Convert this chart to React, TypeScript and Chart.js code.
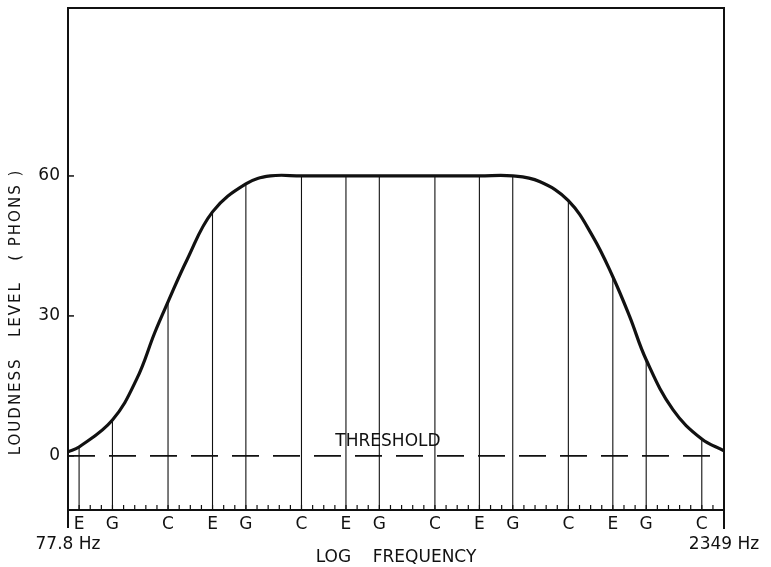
import React, { useEffect, useRef } from 'react';
import { Chart, registerables } from 'chart.js';

Chart.register(...registerables);

const F_MIN = 77.8;
const F_MAX = 2349;
const Y_MIN = -11.6;
const Y_MAX = 96;

const NOTE_NAMES = ['E', 'G', 'C', 'E', 'G', 'C', 'E', 'G', 'C', 'E', 'G', 'C', 'E', 'G', 'C'];
const NOTE_FREQS = [82.41, 98.0, 130.81, 164.81, 196.0, 261.63, 329.63, 392.0, 523.25, 659.26, 783.99, 1046.5, 1318.5, 1568.0, 2093.0];
const NOTE_LEVELS = [1.9, 7.7, 33, 52.3, 58.3, 60, 60, 60, 60, 60, 60, 54.7, 38.4, 20.6, 3.6];

const CURVE_FREQS = [77.8, 82.4, 98.0, 111.2, 122.2, 130.8, 144.3, 164.8, 196.0, 222.6, 261.6, 392.0, 659.3, 784.0, 900.9, 1046.5, 1188.7, 1318.5, 1438.5, 1568.0, 1801.6, 2093.0, 2349.0];
const CURVE_LEVELS = [0.9, 1.9, 7.7, 16.5, 26.5, 33, 42, 52.3, 58.3, 60, 60, 60, 60, 60, 58.8, 54.7, 47, 38.4, 29.9, 20.6, 9.9, 3.6, 1.1];

const Y_TICKS = [0, 30, 60];
const THRESHOLD_LEVEL = 0;
const THRESHOLD_LABEL = 'THRESHOLD';
const THRESHOLD_LABEL_POS = { x: 410, y: 3.0 };
const SEMITONE_COUNT = 59;
const END_LABELS = ['77.8 Hz', '2349 Hz'];
const X_TITLE = 'LOG    FREQUENCY';
const Y_TITLE = 'LOUDNESS   LEVEL   ( PHONS )';

const FONT = "'DejaVu Sans', sans-serif";
const INK = '#111';

const decorPlugin = {
  id: 'decor',
  afterDraw(chart: any) {
    const { ctx, chartArea, scales } = chart;
    const xs = scales.x;
    const ys = scales.y;
    const { left, right, top, bottom } = chartArea;
    ctx.save();
    ctx.strokeStyle = INK;
    ctx.lineCap = 'butt';
    // frame top and right
    ctx.lineWidth = 2;
    ctx.beginPath();
    ctx.moveTo(left, top);
    ctx.lineTo(right, top);
    ctx.lineTo(right, bottom + 19);
    ctx.stroke();
    // left axis extension below
    ctx.beginPath();
    ctx.moveTo(left, bottom);
    ctx.lineTo(left, bottom + 18);
    ctx.stroke();
    // semitone ticks
    ctx.lineWidth = 1.2;
    for (let i = 1; i < SEMITONE_COUNT; i++) {
      const f = F_MIN * Math.pow(2, i / 12);
      const px = xs.getPixelForValue(f);
      ctx.beginPath();
      ctx.moveTo(px, bottom);
      ctx.lineTo(px, bottom - 5);
      ctx.stroke();
    }
    // y ticks inward
    ctx.lineWidth = 1.5;
    for (const v of Y_TICKS) {
      const py = ys.getPixelForValue(v);
      ctx.beginPath();
      ctx.moveTo(left, py);
      ctx.lineTo(left + 6, py);
      ctx.stroke();
    }
    // threshold label
    ctx.fillStyle = INK;
    ctx.font = `17px ${FONT}`;
    ctx.textAlign = 'center';
    ctx.textBaseline = 'middle';
    ctx.fillText(THRESHOLD_LABEL, xs.getPixelForValue(THRESHOLD_LABEL_POS.x), ys.getPixelForValue(THRESHOLD_LABEL_POS.y));
    // y title
    ctx.translate(16, 312);
    ctx.rotate(-Math.PI / 2);
    ctx.font = `15px ${FONT}`;
    (ctx as any).letterSpacing = '2px';
    ctx.fillText(Y_TITLE, 0, 0);
    ctx.restore();
  },
};

export default function App() {
  const ref = useRef<HTMLCanvasElement | null>(null);
  useEffect(() => {
    if (!ref.current) return;
    const curve = CURVE_FREQS.map((f, i) => ({ x: f, y: CURVE_LEVELS[i] }));
    const noteLines: any[] = [];
    NOTE_FREQS.forEach((f, i) => {
      noteLines.push({ x: f, y: Y_MIN });
      noteLines.push({ x: f, y: NOTE_LEVELS[i] });
      noteLines.push({ x: f, y: null });
    });
    const threshold = [
      { x: F_MIN, y: THRESHOLD_LEVEL },
      { x: F_MAX, y: THRESHOLD_LEVEL },
    ];
    const tickValues = [F_MIN, ...NOTE_FREQS, F_MAX];
    const chart = new Chart(ref.current, {
      type: 'line',
      data: {
        datasets: [
          {
            data: curve,
            borderColor: INK,
            borderWidth: 3.2,
            pointRadius: 0,
            tension: 0.4,
            fill: false,
          },
          {
            data: threshold,
            borderColor: INK,
            borderWidth: 1.6,
            borderDash: [27, 14],
            pointRadius: 0,
            fill: false,
          },
          {
            data: noteLines,
            borderColor: INK,
            borderWidth: 1.1,
            pointRadius: 0,
            spanGaps: false,
            tension: 0,
            fill: false,
          },
        ],
      } as any,
      options: {
        responsive: false,
        animation: false,
        events: [],
        layout: { padding: { top: 8, right: 47, left: 0, bottom: 0 } },
        plugins: { legend: { display: false }, tooltip: { enabled: false } },
        scales: {
          x: {
            type: 'logarithmic',
            min: F_MIN,
            max: F_MAX,
            afterBuildTicks: (s: any) => {
              s.ticks = tickValues.map((v) => ({ value: v }));
            },
            afterFit: (s: any) => {
              s.height = 57;
              s.paddingLeft = 0;
              s.paddingRight = 0;
            },
            grid: { display: false, drawTicks: false },
            border: { display: true, color: INK, width: 2 },
            ticks: {
              autoSkip: false,
              maxRotation: 0,
              minRotation: 0,
              padding: 4,
              color: INK,
              font: { family: FONT, size: 17 },
              callback: (_v: any, i: number) => {
                if (i === 0) return ['', END_LABELS[0]];
                if (i === tickValues.length - 1) return ['', END_LABELS[1]];
                return NOTE_NAMES[i - 1];
              },
            },
            title: {
              display: true,
              text: X_TITLE,
              color: INK,
              font: { family: FONT, size: 17 },
              padding: { top: 0, bottom: -1 },
            },
          },
          y: {
            min: Y_MIN,
            max: Y_MAX,
            afterBuildTicks: (s: any) => {
              s.ticks = Y_TICKS.map((v) => ({ value: v }));
            },
            afterFit: (s: any) => {
              s.width = 68;
              s.paddingTop = 0;
              s.paddingBottom = 0;
            },
            grid: { display: false, drawTicks: false },
            border: { display: true, color: INK, width: 2 },
            ticks: {
              padding: 8,
              color: INK,
              font: { family: FONT, size: 17 },
            },
          },
        },
      } as any,
      plugins: [decorPlugin],
    });
    return () => chart.destroy();
  }, []);
  return (
    <div style={{ position: 'absolute', left: 0, top: 0, width: 771, height: 567, background: '#fff' }}>
      <canvas ref={ref} width={771} height={567} style={{ display: 'block' }} />
    </div>
  );
}
